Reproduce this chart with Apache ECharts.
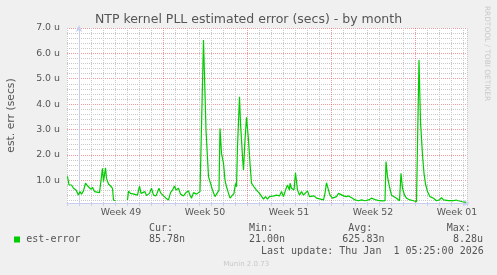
<!DOCTYPE html>
<html><head><meta charset="utf-8">
<script src="https://cdn.jsdelivr.net/npm/echarts@6/dist/echarts.min.js"></script>
<style>html,body{margin:0;padding:0;background:#F0F0F0;}#c{width:497px;height:275px;}</style>
</head><body><div id="c"></div>
<script>
// time in hours since Sun 2025-11-30 00:00 ; value in microseconds
const timeHours = [-23,-20,-15,-11,-6,-1,2,5,9,13,17,21,24,27,31,35,41,43,47,49,53,55,59,63,67,69,73,75,
 97,99,103,110,117,121,124,127,132,135,141,145,149,154,160,163,169,174,179,183,187,191,194,199,203,209,214,219,222,225,229,232,235,239,242,245,
 249,254,259,263,267,272,275,280,282,285,289,292,295,299,302,306,310,313,315,317,321,323,327,329,332,335,339,342,345,350,355,361,365,369,373,377,381,385,390,395,401,405,409,413,417,421,
 422,425,430,433,437,441,445,449,453,457,461,465,470,475,481,485,489,492,495,499,502,507,511,515,519,523,529,534,539,542,547,552,559,565,572,579,585,589,594,601,607,612,
 614,617,621,625,630,635,641,644,647,651,655,662,669,675,678,680,683,687,690,693,697,702,709,715,721,725,729,733,739,743,749,754,759,763,767,772,773];
const errMicro = [1.15,0.81,0.81,0.68,0.61,0.41,0.55,0.45,0.58,0.88,0.78,0.74,0.64,0.72,0.55,0.51,0.51,0.45,1.47,0.94,1.49,1.07,0.85,0.77,0.68,0.22,0.19,null,
 0.22,0.57,0.48,0.45,0.41,0.77,0.48,0.41,0.55,0.39,0.48,0.68,0.41,0.38,0.68,0.51,0.38,0.29,0.22,0.51,0.61,0.77,0.61,0.68,0.45,0.38,0.51,0.58,0.41,0.29,0.51,0.55,0.45,0.50,0.55,0.58,
 6.53,2.98,1.14,0.88,0.61,0.35,0.35,0.61,3.04,2.06,1.66,1.00,0.74,0.48,0.29,0.35,0.48,0.88,0.74,2.32,4.29,3.24,1.93,1.40,2.58,3.48,2.58,1.66,0.88,0.74,0.61,0.48,0.41,0.25,0.35,0.25,0.35,0.41,0.38,0.41,0.38,0.55,0.35,0.61,0.81,0.60,
 0.88,0.68,0.61,1.29,0.61,0.41,0.55,0.41,0.35,0.58,0.35,0.29,0.38,0.29,0.26,0.29,0.22,0.48,0.90,0.61,0.41,0.29,0.22,0.35,0.48,0.41,0.38,0.35,0.38,0.41,0.29,0.22,0.19,0.22,0.19,0.22,0.29,0.29,0.22,0.19,0.18,0.19,
 1.73,1.14,0.74,0.41,0.35,0.29,0.19,1.27,0.68,0.41,0.29,0.22,0.19,0.15,0.18,5.74,3.30,2.00,1.27,0.85,0.55,0.35,0.29,0.19,0.22,0.31,0.22,0.27,0.19,0.22,0.19,0.22,0.19,0.25,0.15,0.13,0.10];
const weekLabels = ['Week 49','Week 50','Week 51','Week 52','Week 01'];
const legendName = 'est-error';
const statHeads = ['Cur:','Min:','Avg:','Max:'];
const statVals = ['85.78n','21.00n','625.83n','8.28u'];

const seriesData = timeHours.map((h,i)=>[h, errMicro[i]]);
const G = '#c8c8c8', R = 'rgba(235,70,70,0.55)', T = 'rgba(0,0,0,0)';
const SANS = 'DejaVu Sans', MONO = 'DejaVu Sans Mono', TXT = '#555';
const chart = echarts.init(document.getElementById('c'), null, {renderer:'canvas'});
const statX = [149,249,348.3,446.7], valX = [149,249,342.3,453];
const graphics = [
  {type:'text', left:'center', top:13, style:{text:'NTP kernel PLL estimated error (secs) - by month', font:'12.5px "DejaVu Sans"', fill:TXT}},
  {type:'text', x:11, y:115.5, rotation:Math.PI/2, style:{text:'est. err (secs)', font:'10.8px "DejaVu Sans"', fill:TXT, align:'center', verticalAlign:'middle'}},
  {type:'text', x:487, y:53.5, rotation:-Math.PI/2, style:{text:'RRDTOOL / TOBI OETIKER', font:'7.4px "DejaVu Sans"', fill:'#c8c8c8', align:'center', verticalAlign:'middle'}},
  {type:'rect', shape:{x:14, y:236.5, width:6, height:6}, style:{fill:'#00CC00'}},
  {type:'text', x:26.3, y:239.5, style:{text:legendName, font:'10px "DejaVu Sans Mono"', fill:TXT, verticalAlign:'middle'}},
  {type:'text', x:261, y:251.7, style:{text:'Last update: Thu Jan  1 05:25:00 2026', font:'10px "DejaVu Sans Mono"', fill:TXT, verticalAlign:'middle'}},
  {type:'text', x:223.3, y:264, style:{text:'Munin 2.0.73', font:'7px "DejaVu Sans"', fill:'#c8c8c8', verticalAlign:'middle'}}
];
statHeads.forEach((s,i)=>graphics.push({type:'text', x:statX[i], y:228.5, style:{text:s, font:'10px "DejaVu Sans Mono"', fill:TXT, verticalAlign:'middle'}}));
statVals.forEach((s,i)=>graphics.push({type:'text', x:valX[i], y:239.5, style:{text:s, font:'10px "DejaVu Sans Mono"', fill:TXT, verticalAlign:'middle'}}));

const yColors = [T,G,T,G,T,G,T,G,T,R];
const xColors = [G,R,G,G,G,G,G];
chart.setOption({
  animation:false,
  backgroundColor:'#F0F0F0',
  grid:{left:67, top:28, width:400, height:175, show:true, backgroundColor:'#FFFFFF', borderWidth:0, containLabel:false},
  xAxis:[
    {type:'value', min:-24, max:776, interval:24, position:'bottom',
     axisLine:{show:true, lineStyle:{color:'#C8CEF0', width:1}, symbol:['none','arrow'], symbolSize:[5,7], symbolOffset:[0,3]},
     axisTick:{show:true, length:3, lineStyle:{color:'#C8CEF0'}},
     axisLabel:{show:false},
     splitLine:{show:true, lineStyle:{color:xColors, type:[1,1], width:1}}},
    {type:'value', min:-24, max:776, interval:12, position:'bottom',
     axisLine:{show:false}, axisTick:{show:false}, splitLine:{show:false},
     axisLabel:{show:true, margin:5, color:TXT, fontFamily:SANS, fontSize:9.4,
       formatter:(v)=>{for(let i=0;i<weekLabels.length;i++){if(Math.abs(v-(84+168*i))<1e-6)return weekLabels[i];}return '';}}}
  ],
  yAxis:{type:'value', min:0.1, max:7.0, interval:0.1,
    axisLine:{show:true, lineStyle:{color:'#C8CEF0', width:1}, symbol:['none','arrow'], symbolSize:[5,7], symbolOffset:[0,3]},
    axisTick:{show:false},
    axisLabel:{show:true, margin:7, color:TXT, fontFamily:SANS, fontSize:9.4,
      formatter:(v)=>Math.abs(v-Math.round(v))<1e-6 ? v.toFixed(1)+' u' : ''},
    splitLine:{show:true, lineStyle:{color:yColors, type:[1,1], width:1}}},
  series:[{type:'line', xAxisIndex:0, data:seriesData, showSymbol:false, connectNulls:false,
    lineStyle:{color:'#00CC00', width:1.2}, itemStyle:{color:'#00CC00'}, z:5}],
  graphic:graphics
});
</script></body></html>
